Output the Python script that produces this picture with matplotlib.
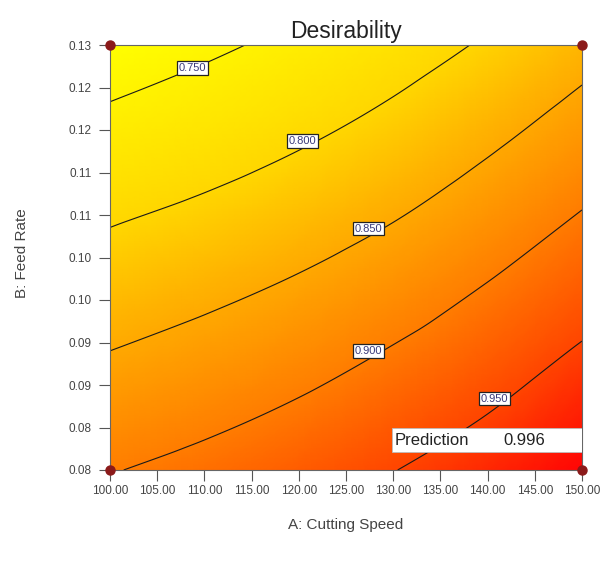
import numpy as np
import matplotlib
matplotlib.use("Agg")
import matplotlib.pyplot as plt
import matplotlib.tri as mtri
from matplotlib.colors import LinearSegmentedColormap, Normalize
from matplotlib.patches import Rectangle

plt.rcParams['font.family'] = ['Liberation Sans', 'DejaVu Sans']

# ---- data ----
cutting_speed = [100, 110, 120, 130, 140, 150]          # A
feed_rate = [0.08, 0.09, 0.10, 0.11, 0.12, 0.13]        # B
# desirability estimated at grid points (rows = feed_rate, cols = cutting_speed)
desirability = [
    [0.898, 0.912, 0.929, 0.949, 0.971, 0.996],
    [0.864, 0.878, 0.895, 0.916, 0.939, 0.967],
    [0.829, 0.844, 0.861, 0.882, 0.907, 0.934],
    [0.795, 0.809, 0.826, 0.847, 0.873, 0.902],
    [0.761, 0.775, 0.792, 0.813, 0.839, 0.868],
    [0.728, 0.743, 0.760, 0.780, 0.805, 0.834],
]
contour_levels = [0.750, 0.800, 0.850, 0.900, 0.950]
label_points_a = [108.7, 120.4, 127.4, 127.4, 140.7]
label_points_b = [0.1273, 0.1187, 0.1084, 0.0940, 0.0884]
design_a = [100, 100, 150, 150]
design_b = [0.08, 0.13, 0.08, 0.13]
x_ticks = [100, 105, 110, 115, 120, 125, 130, 135, 140, 145, 150]
x_tick_labels = ["100.00", "105.00", "110.00", "115.00", "120.00", "125.00",
                 "130.00", "135.00", "140.00", "145.00", "150.00"]
y_ticks = [0.080, 0.085, 0.090, 0.095, 0.100, 0.105, 0.110, 0.115, 0.120, 0.125, 0.130]
y_tick_labels = ["0.08", "0.08", "0.09", "0.09", "0.10", "0.10",
                 "0.11", "0.11", "0.12", "0.12", "0.13"]
prediction_value = 0.996

# ---- figure ----
fig = plt.figure(figsize=(6.01, 5.65), dpi=100)
ax = fig.add_axes([110/601, 1-470/565, 472/601, 425/565])

X, Y = np.meshgrid(cutting_speed, feed_rate)
Z = np.array(desirability)
ys = 1000.0
tri = mtri.Triangulation(X.ravel(), Y.ravel()*ys)
interp = mtri.CubicTriInterpolator(tri, Z.ravel(), kind='geom')
refiner = mtri.UniformTriRefiner(tri)
tri_f, z_f = refiner.refine_field(Z.ravel(), triinterpolator=interp, subdiv=4)
tri_f = mtri.Triangulation(tri_f.x, tri_f.y/ys, tri_f.triangles)

cmap = LinearSegmentedColormap.from_list("des", [
    (0.00, (1.00, 1.00, 0.00)),
    (0.27, (1.00, 0.84, 0.00)),
    (0.40, (1.00, 0.71, 0.00)),
    (0.64, (1.00, 0.49, 0.00)),
    (0.83, (1.00, 0.27, 0.00)),
    (1.00, (1.00, 0.02, 0.02)),
])
norm = Normalize(vmin=0.728, vmax=0.996)
ax.tripcolor(tri_f, z_f, shading='gouraud', cmap=cmap, norm=norm)
ax.tricontour(tri_f, z_f, levels=contour_levels, colors='#1a1a1a', linewidths=0.8)

for lv, la, lb in zip(contour_levels, label_points_a, label_points_b):
    ax.text(la, lb, f"{lv:.3f}", fontsize=8, color='#3a3a7a', ha='center', va='center',
            bbox=dict(boxstyle='square,pad=0.15', fc='white', ec='#222222', lw=0.9), zorder=5)

ax.plot(design_a, design_b, 'o', color='#8b1a1a', ms=6.5, clip_on=False, zorder=6)

# prediction box
ax.add_patch(Rectangle((0.597, 0.042), 0.403, 0.057, transform=ax.transAxes,
                       fc='white', ec='#bbbbbb', lw=0.6, zorder=7))
ax.text(0.604, 0.070, "Prediction", transform=ax.transAxes, fontsize=12,
        color='#222222', va='center', ha='left', zorder=8)
ax.text(0.834, 0.070, f"{prediction_value:.3f}", transform=ax.transAxes, fontsize=12,
        color='#222222', va='center', ha='left', zorder=8)

ax.set_xlim(100, 150)
ax.set_ylim(0.08, 0.13)
ax.set_xticks(x_ticks)
ax.set_xticklabels(x_tick_labels)
ax.set_yticks(y_ticks)
ax.set_yticklabels(y_tick_labels)
ax.tick_params(axis='both', direction='out', length=8, width=0.8, color='#555555',
               labelsize=8.5, labelcolor='#444444')
ax.tick_params(axis='y', pad=5)
ax.tick_params(axis='x', pad=3)
for s in ax.spines.values():
    s.set_color('#666666')
    s.set_linewidth(0.8)

ax.set_title("Desirability", fontsize=16.5, color='#222222', pad=5)
fig.text(22/601, 1-253/565, "B: Feed Rate", rotation=90, fontsize=11, color='#444444',
         ha='center', va='center')
fig.text(346/601, 1-525/565, "A: Cutting Speed", fontsize=11, color='#444444',
         ha='center', va='center')

fig.savefig("out.png", dpi=100)
